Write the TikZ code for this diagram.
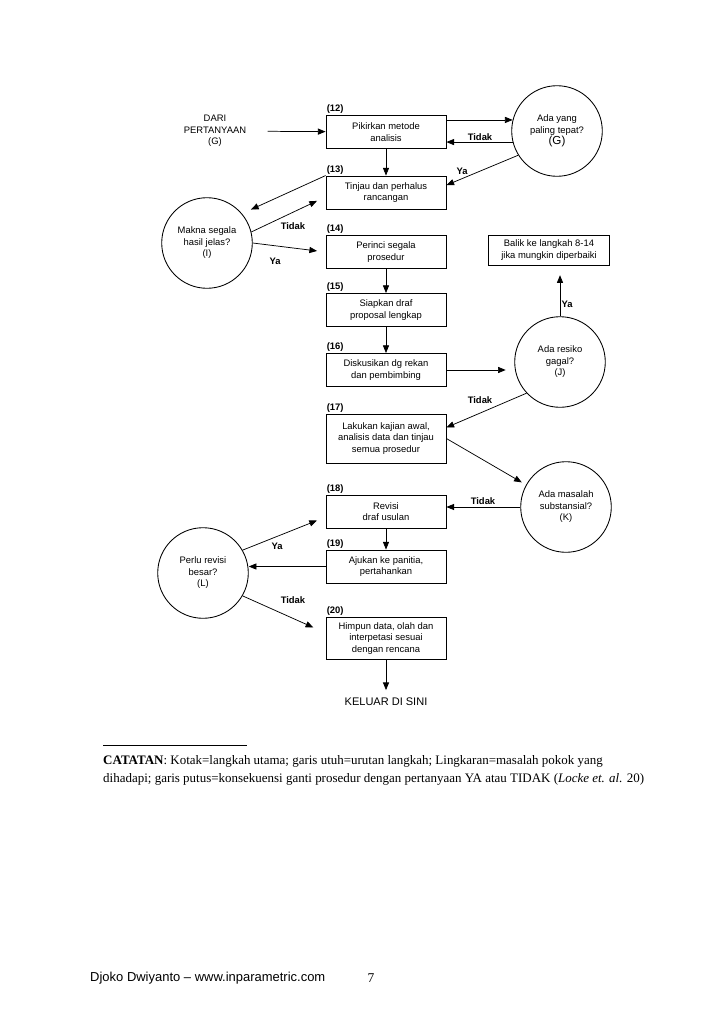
\documentclass[tikz,border=0pt]{standalone}
\usepackage{fontspec}
\setmainfont{Liberation Serif}
\setsansfont{Liberation Sans}
\usetikzlibrary{arrows.meta}
\newcommand{\kecil}{\fontsize{7.7}{9.4}\selectfont\sffamily}
\tikzstyle{langkah}=[draw, line width=0.7pt, minimum width=98pt, minimum height=27pt, inner sep=1pt, align=center, font=\kecil]
\tikzstyle{soal}=[draw, circle, line width=0.7pt, minimum size=74pt, inner sep=0pt, align=center, font=\kecil]
\tikzstyle{panah}=[-{Triangle[length=6.3pt,width=5pt]}, line width=0.6pt]
\tikzstyle{jawab}=[font=\kecil\bfseries]
\tikzstyle{nomor}=[anchor=south west, inner sep=0.8pt, font=\kecil\bfseries]

\begin{document}
\begin{tikzpicture}[x=0.817pt,y=-0.817pt]
\useasboundingbox (0,0) rectangle (728,1031);
% langkah utama
\node[langkah] (b12) at (386,132) {Pikirkan metode\\analisis};
\node[langkah] (b13) at (386,192.5) {Tinjau dan perhalus\\rancangan};
\node[langkah] (b14) at (386,252) {Perinci segala\\prosedur};
\node[langkah] (b15) at (386,310) {Siapkan draf\\proposal lengkap};
\node[langkah] (b16) at (386,370) {Diskusikan dg rekan\\dan pembimbing};
\node[langkah, minimum height=40pt] (b17) at (386,438.5) {Lakukan kajian awal,\\analisis data dan tinjau\\semua prosedur};
\node[langkah] (b18) at (386,511.5) {Revisi\\draf usulan};
\node[langkah] (b19) at (386,566.5) {Ajukan ke panitia,\\pertahankan};
\node[langkah, minimum height=35pt] (b20) at (386,638.5) {Himpun data, olah dan\\interpetasi sesuai\\dengan rencana};
\node[langkah, minimum width=99pt, minimum height=24.5pt] (balik) at (549,250) {Balik ke langkah 8-14\\jika mungkin diperbaiki};
\foreach \n in {12,...,20}
    \node[nomor] (n\n) at (b\n.north west) {(\n)};

% masalah pokok
\node[soal] (G) at (557,131) {Ada yang\\paling tepat?\\{\fontsize{9.5}{11}\selectfont(G)}};
\node[soal] (I) at (207,243) {Makna segala\\hasil jelas?\\(I)};
\node[soal] (J) at (560,362) {Ada resiko\\gagal?\\(J)};
\node[soal] (K) at (566,507) {Ada masalah\\substansial?\\(K)};
\node[soal] (L) at (203,573) {Perlu revisi\\besar?\\(L)};

\node[font=\kecil, align=center] (dari) at (215,131) {DARI\\PERTANYAAN\\(G)};
\node[font=\fontsize{9}{11}\selectfont\sffamily] (keluar) at (386,702) {KELUAR DI SINI};

% urutan langkah
\draw[panah, shorten <=14pt] (dari) -- (b12);
\draw[panah] (b12.east |- G.166) -- (G.166);
\draw[panah] (G.194) -- (b12.east |- G.194);
\draw[panah] (b12) -- (b13);
\draw[panah] (G.212) -- ([yshift=6pt]b13.east);
\draw[panah, shorten >=8pt] (b13.north west) -- (I.40);
\draw[panah] (I.14) -- ([xshift=-7pt,yshift=7pt]b13.south west);
\draw[panah, shorten >=7pt] (I.0) -- (b14.west);
\draw[panah] (b14) -- (b15);
\draw[panah] (b15) -- (b16);
\draw[panah, shorten >=7pt] (b16.east) -- (b16.east -| J.west);
\draw[panah, shorten >=8pt] (J.north) -- (J.north |- balik.south);
\draw[panah] (J.223) -- ([yshift=9pt]b17.east);
\draw[panah, shorten >=4pt] (b17.east) -- (K.151);
\draw[panah] (K.west) -- (K.west -| b18.east);
\draw[panah] (b18) -- (b19);
\draw[panah] (b19.west) -- (b19.west -| L.east);
\draw[panah] (L.30) -- ([xshift=-7pt,yshift=6.5pt]b18.south west);
\draw[panah] (L.330) -- ([xshift=-10pt,yshift=9pt]b20.west);
\draw[panah, shorten >=3pt] (b20) -- (keluar);

% jawaban
\node[jawab] (t1) at (480,137) {Tidak};
\node[jawab] (y1) at (462,171) {Ya};
\node[jawab] (t2) at (293,226) {Tidak};
\node[jawab] (y2) at (275,261) {Ya};
\node[jawab] (y3) at (567,304) {Ya};
\node[jawab] (t3) at (480,400) {Tidak};
\node[jawab] (t4) at (483,501) {Tidak};
\node[jawab] (y4) at (277,546) {Ya};
\node[jawab] (t5) at (293,600) {Tidak};

% catatan
\draw[line width=0.5pt] (103,745) -- (247,745);
\node[anchor=north west, align=left, inner sep=0pt, font=\fontsize{10.6}{14.7}\selectfont] (catatan) at (103,755) {\textbf{CATATAN}: Kotak=langkah utama; garis utuh=urutan langkah; Lingkaran=masalah pokok yang\\dihadapi; garis putus=konsekuensi ganti prosedur dengan pertanyaan YA atau TIDAK (\textit{Locke et. al.} 20)};
\node[anchor=west, inner sep=0pt, font=\fontsize{10.6}{13}\selectfont\sffamily] (kaki) at (90,978) {Djoko Dwiyanto – www.inparametric.com};
\node[font=\fontsize{11}{13}\selectfont] (hal) at (371,978) {7};
\end{tikzpicture}
\end{document}
